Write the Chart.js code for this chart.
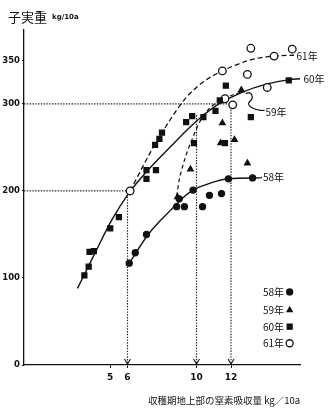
<!DOCTYPE html>
<html>
<head>
<meta charset="utf-8">
<script src="https://cdn.jsdelivr.net/npm/chart.js@4/dist/chart.umd.min.js"></script>
<style>
    html, body { margin: 0; padding: 0; background: #fff; }
    #wrap { width: 332px; height: 411px; position: relative; }
</style>
</head>
<body>
<div id="wrap"><canvas id="yieldChart" width="332" height="411"></canvas></div>
<script>
// Axis ticks
const xTicks = [5, 6, 10, 12];
const yTicks = [0, 100, 200, 300, 350];

// Observed points [N uptake, grain yield]
const pts58 = [[6.1, 117], [6.45, 129], [7.1, 150], [8.85, 182], [9.0, 191], [9.3, 182],
    [9.8, 201], [10.35, 182], [10.75, 195], [11.45, 197], [11.85, 214], [13.25, 215]];
const pts59 = [[8.9, 193], [9.65, 225], [11.4, 255], [12.2, 259], [12.95, 232], [11.5, 278], [12.6, 316]];
const pts60 = [[3.5, 103], [3.75, 113], [3.8, 130], [4.05, 131], [5.0, 157], [5.5, 170],
    [7.1, 214], [7.1, 224], [7.65, 224], [7.6, 253], [7.85, 260], [8.0, 267], [9.4, 279],
    [9.75, 286], [9.85, 255], [10.4, 285], [11.1, 292], [11.35, 304], [11.65, 255],
    [11.7, 321], [13.15, 285], [15.35, 327]];
const pts61 = [[6.15, 200], [11.5, 338], [13.15, 364], [12.95, 334], [14.5, 355],
    [15.55, 363], [11.65, 306], [14.1, 319], [12.1, 299]];

// Fitted curves
const curve58 = [[6.1, 117], [7.2, 150], [8.5, 178], [9.2, 192], [9.8, 201], [10.8, 209], [11.8, 214], [13.7, 215]];
const curve59 = [[8.85, 194], [9.0, 213], [9.25, 232], [9.5, 247], [9.8, 262], [10.1, 276], [10.45, 288], [11.2, 302], [12.6, 314]];
const curve60 = [[3.1, 88], [4.15, 130], [5.1, 167], [6.1, 198], [7.1, 222], [8.5, 251], [9.6, 273], [10.4, 287], [11.3, 300], [12.6, 313], [14.1, 323], [15.4, 328], [16.0, 329]];
const curve61 = [[6.15, 200], [7.4, 247], [8.0, 267], [9.3, 305], [10.3, 324], [11.5, 338], [13.2, 351], [14.5, 355], [15.65, 356]];

// Dotted guide lines
const guide200 = [[0, 200], [6, 200], [6, 0]];
const guide300 = [[0, 300], [12, 300], [12, 0]];
const guide10 = [[10, 287], [10, 0]];
const arrowXs = [6, 10, 12];

// Labels
const curveLabels = [['61年', 15.8, 355], ['60年', 16.2, 328], ['59年', 14.0, 291], ['58年', 13.85, 216]];
const legendItems = ['58年', '59年', '60年', '61年'];
const legendYs = [84, 63, 44, 25];

const toXY = arr => arr.map(p => ({ x: p[0], y: p[1] }));
const INK = '#111';

function pointSet(label, pts, style, radius, fill) {
    return {
        label: label,
        data: toXY(pts),
        showLine: false,
        pointStyle: style,
        pointRadius: radius,
        pointBackgroundColor: fill,
        pointBorderColor: INK,
        pointBorderWidth: 1.3,
        order: 0
    };
}

function lineSet(label, pts, dash, width) {
    return {
        label: label,
        data: toXY(pts),
        showLine: true,
        borderColor: INK,
        borderWidth: width,
        borderDash: dash,
        pointRadius: 0,
        cubicInterpolationMode: 'monotone',
        order: 1
    };
}

function guideSet(label, pts) {
    return {
        label: label,
        data: toXY(pts),
        showLine: true,
        borderColor: '#222',
        borderWidth: 1.2,
        borderDash: [1.4, 1.4],
        pointRadius: 0,
        tension: 0,
        order: 2
    };
}

const legendStyles = [
    { pointStyle: 'circle', radius: 3, fill: INK },
    { pointStyle: 'triangle', radius: 3, fill: INK },
    { pointStyle: 'rect', radius: 3.5, fill: INK },
    { pointStyle: 'circle', radius: 3.5, fill: '#fff' }
];

/**
 * Draws titles, curve labels, arrowheads and the legend box
 */
const annotations = {
    id: 'annotations',
    afterDatasetsDraw(chart) {
        const { ctx, scales } = chart;
        const x = scales.x, y = scales.y;
        ctx.save();
        ctx.fillStyle = INK;
        ctx.strokeStyle = INK;
        ctx.textBaseline = 'middle';

        // Y axis title
        ctx.font = '13px "Noto Sans CJK JP"';
        ctx.fillText('子実重', 8, 17);
        ctx.font = 'bold 7px "DejaVu Sans"';
        ctx.fillText('kg/10a', 52, 17);

        // X axis title
        ctx.font = '9.5px "Noto Sans CJK JP"';
        ctx.fillText('収穫期地上部の窒素吸収量 kg／10a', 148, 400);

        // Arrowheads on the guide lines
        ctx.lineWidth = 1.1;
        arrowXs.forEach(v => {
            const px = x.getPixelForValue(v);
            const py = y.getPixelForValue(0);
            ctx.beginPath();
            ctx.moveTo(px - 3, py - 6);
            ctx.lineTo(px, py - 1);
            ctx.lineTo(px + 3, py - 6);
            ctx.stroke();
        });

        // Curve labels
        ctx.font = '10px "Noto Sans CJK JP"';
        curveLabels.forEach(l => {
            ctx.fillText(l[0], x.getPixelForValue(l[1]), y.getPixelForValue(l[2]));
        });

        // Short leader line for 58
        ctx.lineWidth = 1.2;
        const e58 = curve58[curve58.length - 1];
        ctx.beginPath();
        ctx.moveTo(x.getPixelForValue(e58[0]), y.getPixelForValue(e58[1]));
        ctx.lineTo(x.getPixelForValue(13.8), y.getPixelForValue(216));
        ctx.stroke();

        // Curly leader for 59
        const lx = x.getPixelForValue(12.85), ly = y.getPixelForValue(312);
        ctx.beginPath();
        ctx.moveTo(lx, ly);
        ctx.bezierCurveTo(lx + 6, ly - 3, lx + 9, ly + 4, lx + 4, ly + 8);
        ctx.bezierCurveTo(lx, ly + 12, lx + 8, ly + 17, lx + 19, ly + 17);
        ctx.stroke();

        // Legend
        ctx.font = '10px "Noto Sans CJK JP"';
        legendItems.forEach((name, i) => {
            const ty = y.getPixelForValue(legendYs[i]);
            ctx.fillStyle = INK;
            ctx.fillText(name, x.getPixelForValue(13.85), ty);
            const s = legendStyles[i];
            ctx.fillStyle = s.fill;
            ctx.strokeStyle = INK;
            ctx.lineWidth = 1.3;
            Chart.helpers.drawPoint(ctx, { pointStyle: s.pointStyle, radius: s.radius, rotation: 0, borderWidth: 1.3 },
                x.getPixelForValue(15.4), ty);
        });
        ctx.restore();
    }
};

const chartCtx = document.getElementById('yieldChart').getContext('2d');
new Chart(chartCtx, {
    type: 'scatter',
    data: {
        datasets: [
            pointSet('58年', pts58, 'circle', 3, INK),
            pointSet('59年', pts59, 'triangle', 3.2, INK),
            pointSet('60年', pts60, 'rect', 3.5, INK),
            pointSet('61年', pts61, 'circle', 3.8, '#fff'),
            lineSet('58年 曲線', curve58, [], 1.4),
            lineSet('59年 曲線', curve59, [4, 3], 1.2),
            lineSet('60年 曲線', curve60, [], 1.4),
            lineSet('61年 曲線', curve61, [5, 3], 1.3),
            guideSet('200', guide200),
            guideSet('300', guide300),
            guideSet('10', guide10)
        ]
    },
    options: {
        responsive: false,
        devicePixelRatio: 1,
        animation: false,
        layout: { padding: { top: 30, right: 32, left: 0, bottom: 0 } },
        plugins: {
            legend: { display: false },
            tooltip: { enabled: false }
        },
        scales: {
            x: {
                type: 'linear',
                min: 0,
                max: 16,
                afterBuildTicks: axis => { axis.ticks = xTicks.map(v => ({ value: v })); },
                afterFit: axis => { axis.height = 46; },
                grid: { drawOnChartArea: false, tickLength: 3, color: INK },
                border: { color: INK, width: 1.3 },
                ticks: { color: INK, font: { family: 'DejaVu Sans', size: 9, weight: 'bold' }, padding: 4, maxRotation: 0 }
            },
            y: {
                type: 'linear',
                min: 0,
                max: 385,
                afterBuildTicks: axis => { axis.ticks = yTicks.map(v => ({ value: v })); },
                afterFit: axis => { axis.width = 24; },
                grid: { drawOnChartArea: false, tickLength: 2, color: INK },
                border: { color: INK, width: 1.3 },
                ticks: { color: INK, font: { family: 'DejaVu Sans', size: 8.5, weight: 'bold' }, padding: 2 }
            }
        }
    },
    plugins: [annotations]
});
</script>
</body>
</html>
